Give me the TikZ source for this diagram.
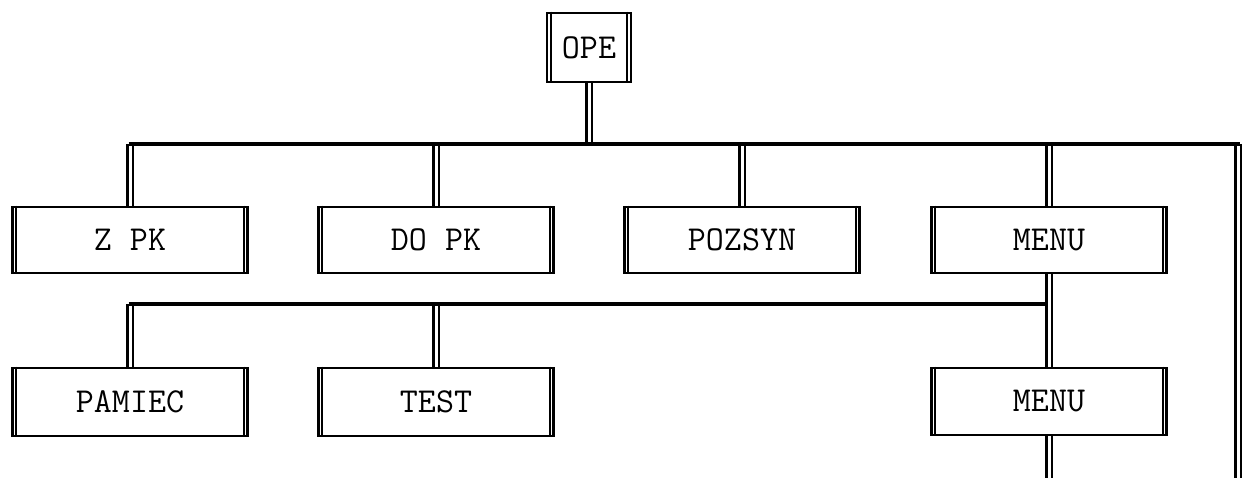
\documentclass[tikz,border=0pt]{standalone}
\begin{document}
\begin{tikzpicture}[x=1pt,y=-1pt,
  box/.style={draw, line width=2.6pt, minimum width=235pt, minimum height=66pt,
    inner sep=0pt, font=\ttfamily\fontsize{35}{40}\selectfont},
  smallbox/.style={box, minimum width=84pt, minimum height=69pt},
  hbar/.style={line width=3.5pt},
  vstem/.style={draw=black, double=white, double distance=3pt, line width=2.2pt},
  inner/.style={line width=2pt}]
\useasboundingbox (0,0) rectangle (1249,478);
\node[smallbox] (ope) at (589,47.5) {OPE};
\node[box] (zpk) at (130,240) {Z PK};
\node[box] (dopk) at (436,240) {DO PK};
\node[box] (poz) at (742,240) {POZSYN};
\node[box] (menu) at (1049,240) {MENU};
\node[box, minimum height=68pt] (pam) at (130,402) {PAMIEC};
\node[box, minimum height=68pt] (test) at (436,402) {TEST};
\node[box, minimum height=67pt] (menub) at (1049,401.5) {MENU};
\foreach \n in {ope,zpk,dopk,poz,menu,pam,test,menub}{
  \draw[inner] ([xshift=5pt]\n.north west) -- ([xshift=5pt]\n.south west);
  \draw[inner] ([xshift=-5pt]\n.north east) -- ([xshift=-5pt]\n.south east);
}
\coordinate (j0) at (589,144);
\coordinate (l1) at (130,144);
\coordinate (r1) at (1238,144);
\coordinate (rb) at (1238,478);
\coordinate (l2) at (130,304);
\coordinate (j2) at (1049,304);
\coordinate (mb) at (1049,478);
% vertical stems
\draw[vstem] (ope.south) -- (j0);
\draw[vstem] (l1) -- (zpk.north);
\draw[vstem] (dopk.north |- l1) -- (dopk.north);
\draw[vstem] (poz.north |- l1) -- (poz.north);
\draw[vstem] (menu.north |- l1) -- (menu.north);
\draw[vstem] (r1) -- (rb);
\draw[vstem] (menu.south) -- (menub.north);
\draw[vstem] (l2) -- (pam.north);
\draw[vstem] (test.north |- l2) -- (test.north);
\draw[vstem] (menub.south) -- (mb);
% horizontal bars
\draw[hbar] ([xshift=-1.5pt]l1) -- ([xshift=1.5pt]r1);
\draw[hbar] ([xshift=-1.5pt]l2) -- ([xshift=-1.5pt]j2);
\end{tikzpicture}
\end{document}
